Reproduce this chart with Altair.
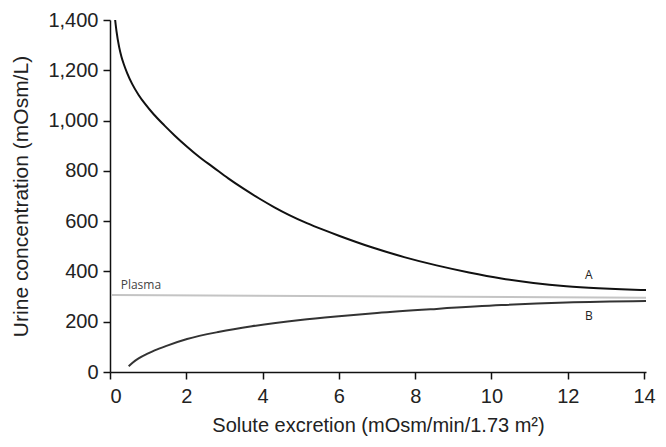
import altair as alt
import pandas as pd

# Curve A (maximal concentration)
a_x = [0.135, 0.17, 0.24, 0.3, 0.36, 0.45, 0.58, 0.75, 0.92, 1.15, 1.43, 1.7, 2.02, 2.35, 2.70, 3.1, 3.5, 3.9, 4.31, 4.7, 5.16, 5.6, 6.0, 6.86, 7.71, 8.56, 9.41, 10.26, 11.1, 11.96, 12.8, 13.4, 14.05]
a_y = [1400, 1356, 1292, 1254, 1225, 1189, 1146, 1102, 1066, 1024, 980, 940, 896, 854, 815, 770, 729, 691, 655, 624, 592, 565, 542, 496, 457, 424, 396, 372, 354, 341, 333, 329, 326]

# Curve B (maximal dilution)
b_x = [0.49, 0.6, 0.75, 1.0, 1.17, 1.5, 2.02, 2.87, 3.72, 4.99, 6.0, 7.0, 8.56, 10.26, 11.96, 14.05]
b_y = [23, 38, 54, 74, 86, 105, 131, 160, 182, 207, 222, 235, 251, 266, 276, 282]

# Plasma
p_x = [0.05, 14.05]
p_y = [306, 295]

# Labels
lab_text = ["A", "B", "Plasma"]
lab_x = [12.55, 12.55, 0.28]
lab_y = [386, 223, 347]
lab_color = ["#222222", "#222222", "#444444"]
lab_align = ["center", "center", "left"]

df = pd.concat([
    pd.DataFrame({"x": a_x, "y": a_y, "s": "A"}),
    pd.DataFrame({"x": b_x, "y": b_y, "s": "B"}),
    pd.DataFrame({"x": p_x, "y": p_y, "s": "Plasma"}),
])
labs = pd.DataFrame({"t": lab_text, "x": lab_x, "y": lab_y, "al": lab_align, "c": lab_color})

xs = alt.Scale(domain=[0, 14.05], nice=False, zero=False)
ys = alt.Scale(domain=[0, 1400], nice=False)

lines = alt.Chart(df).mark_line(strokeWidth=2, interpolate="monotone", clip=False).encode(
    x=alt.X("x:Q", scale=xs, title="Solute excretion (mOsm/min/1.73 m²)",
            axis=alt.Axis(values=[0, 2, 4, 6, 8, 10, 12, 14], format="d")),
    y=alt.Y("y:Q", scale=ys, title="Urine concentration (mOsm/L)",
            axis=alt.Axis(values=[0, 200, 400, 600, 800, 1000, 1200, 1400], format=",d")),
    color=alt.Color("s:N", scale=alt.Scale(domain=["A", "B", "Plasma"], range=["#111111", "#333333", "#c4c4c4"]), legend=None),
    detail="s:N",
)

t_center = alt.Chart(labs[labs["al"] == "center"]).mark_text(
    font="Open Sans", fontSize=12, align="center", baseline="middle"
).encode(x=alt.X("x:Q", scale=xs), y=alt.Y("y:Q", scale=ys), text="t:N",
         color=alt.Color("c:N", scale=None))

t_left = alt.Chart(labs[labs["al"] == "left"]).mark_text(
    font="Open Sans", fontSize=12, align="left", baseline="middle"
).encode(x=alt.X("x:Q", scale=xs), y=alt.Y("y:Q", scale=ys), text="t:N",
         color=alt.Color("c:N", scale=None))

chart = (lines + t_center + t_left).properties(
    width=536, height=352,
    autosize=alt.AutoSizeParams(type="none"),
    padding={"left": 102, "top": 12, "right": 12, "bottom": 67},
).configure_view(stroke=None).configure_axis(
    grid=False, domainColor="#111111", tickColor="#111111", tickSize=7,
    labelFont="Liberation Sans", labelFontSize=20, labelColor="#222222", labelPadding=5,
    titleFont="Liberation Sans", titleFontWeight="normal", titleColor="#222222",
    domainWidth=1.5, tickWidth=1.5,
).configure_axisY(titlePadding=16, titleFontSize=21).configure_axisX(
    titlePadding=9, titleFontSize=20, labelPadding=7)

chart.save("out.html", embed_options={"renderer": "svg", "actions": False})
